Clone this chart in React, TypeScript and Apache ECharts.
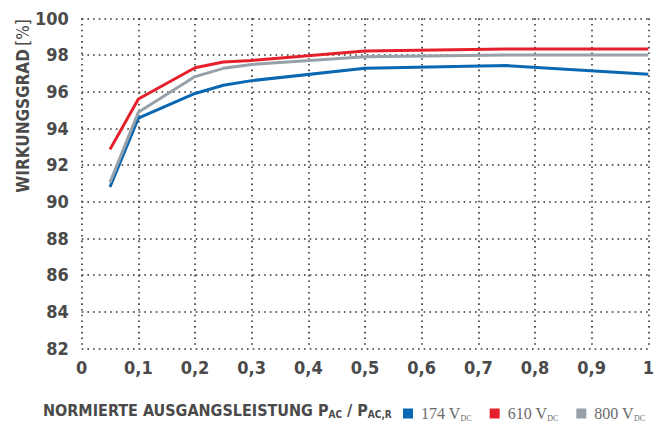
import React, { useEffect, useRef } from "react";
import * as echarts from "echarts";

const xValues = [0.05, 0.1, 0.2, 0.25, 0.3, 0.5, 0.75, 1];
const eff174 = [90.8, 94.55, 95.9, 96.35, 96.6, 97.27, 97.42, 96.95];
const eff610 = [92.85, 95.6, 97.3, 97.62, 97.7, 98.22, 98.32, 98.32];
const eff800 = [91.05, 94.87, 96.82, 97.27, 97.48, 97.9, 98.0, 98.0];
const seriesNames = ["174 V", "610 V", "800 V"];
const colors = ["#0a68b2", "#e5202b", "#97a1a9"];

const condensed = "'Liberation Sans Narrow', 'DejaVu Sans Condensed', sans-serif";
const serif = "'Liberation Serif', 'DejaVu Serif', serif";
const textColor = "#4a4a4a";
const gridStyle = { color: "#333", width: 1.6, type: [1.6, 4.1] };

export default function App() {
  const ref = useRef<HTMLDivElement>(null);
  useEffect(() => {
    const chart = echarts.init(ref.current!, null, { renderer: "svg" });
    const mk = (vals: number[]) => xValues.map((x, i) => [x, vals[i]]);
    const data = [eff174, eff610, eff800];
    const order = [0, 2, 1];
    chart.setOption({
      animation: false,
      color: colors,
      grid: { left: 81.7, right: 12.7, top: 18.3, bottom: 72.7 },
      xAxis: {
        type: "value",
        min: 0,
        max: 1,
        interval: 0.1,
        axisLine: { show: false },
        axisTick: { show: false },
        axisLabel: {
          margin: 10,
          color: textColor,
          fontFamily: condensed,
          fontWeight: "bold",
          fontSize: 18,
          formatter: (v: number) => String(Math.round(v * 10) / 10).replace(".", ","),
        },
        splitLine: { show: true, lineStyle: gridStyle },
      },
      yAxis: {
        type: "value",
        min: 82,
        max: 100,
        interval: 2,
        axisLine: { show: false },
        axisTick: { show: false },
        axisLabel: {
          margin: 13,
          color: textColor,
          fontFamily: condensed,
          fontWeight: "bold",
          fontSize: 18,
        },
        splitLine: { show: true, lineStyle: gridStyle },
      },
      legend: {
        left: 398,
        top: 400,
        itemWidth: 10,
        itemHeight: 10,
        itemGap: 18,
        icon: "rect",
        data: seriesNames,
        formatter: (name: string) => `{m|${name}}{s|DC}`,
        textStyle: {
          padding: [0, 0, 0, 3],
          rich: {
            m: { fontFamily: serif, fontSize: 16, color: "#6b6b6b", lineHeight: 20 },
            s: { fontFamily: serif, fontSize: 8, color: "#6b6b6b", lineHeight: 20, padding: [9, 0, 0, 0] },
          },
        },
      },
      graphic: [
        {
          type: "text",
          x: 23,
          y: 106,
          rotation: Math.PI / 2,
          style: {
            text: "{b|WIRKUNGSGRAD} {n|[%]}",
            align: "center",
            verticalAlign: "middle",
            rich: {
              b: { fontFamily: condensed, fontWeight: "bold", fontSize: 17, fill: textColor },
              n: { fontFamily: condensed, fontWeight: "normal", fontSize: 17, fill: textColor },
            },
          },
        },
        {
          type: "text",
          x: 43,
          y: 410,
          style: {
            text: "{t|NORMIERTE AUSGANGSLEISTUNG P}{s|AC}{t| / P}{s|AC,R}",
            align: "left",
            verticalAlign: "middle",
            rich: {
              t: { fontFamily: condensed, fontWeight: "bold", fontSize: 16, fill: textColor, lineHeight: 20 },
              s: { fontFamily: condensed, fontWeight: "bold", fontSize: 10, fill: textColor, lineHeight: 20, padding: [8, 0, 0, 0] },
            },
          },
        },
      ],
      series: order.map((i) => ({
        name: seriesNames[i],
        type: "line",
        data: mk(data[i]),
        showSymbol: false,
        symbol: "none",
        lineStyle: { width: 3, color: colors[i] },
        itemStyle: { color: colors[i] },
      })),
    });
    return () => chart.dispose();
  }, []);
  return <div ref={ref} style={{ width: 661, height: 421, position: "absolute", left: 0, top: 0 }} />;
}
